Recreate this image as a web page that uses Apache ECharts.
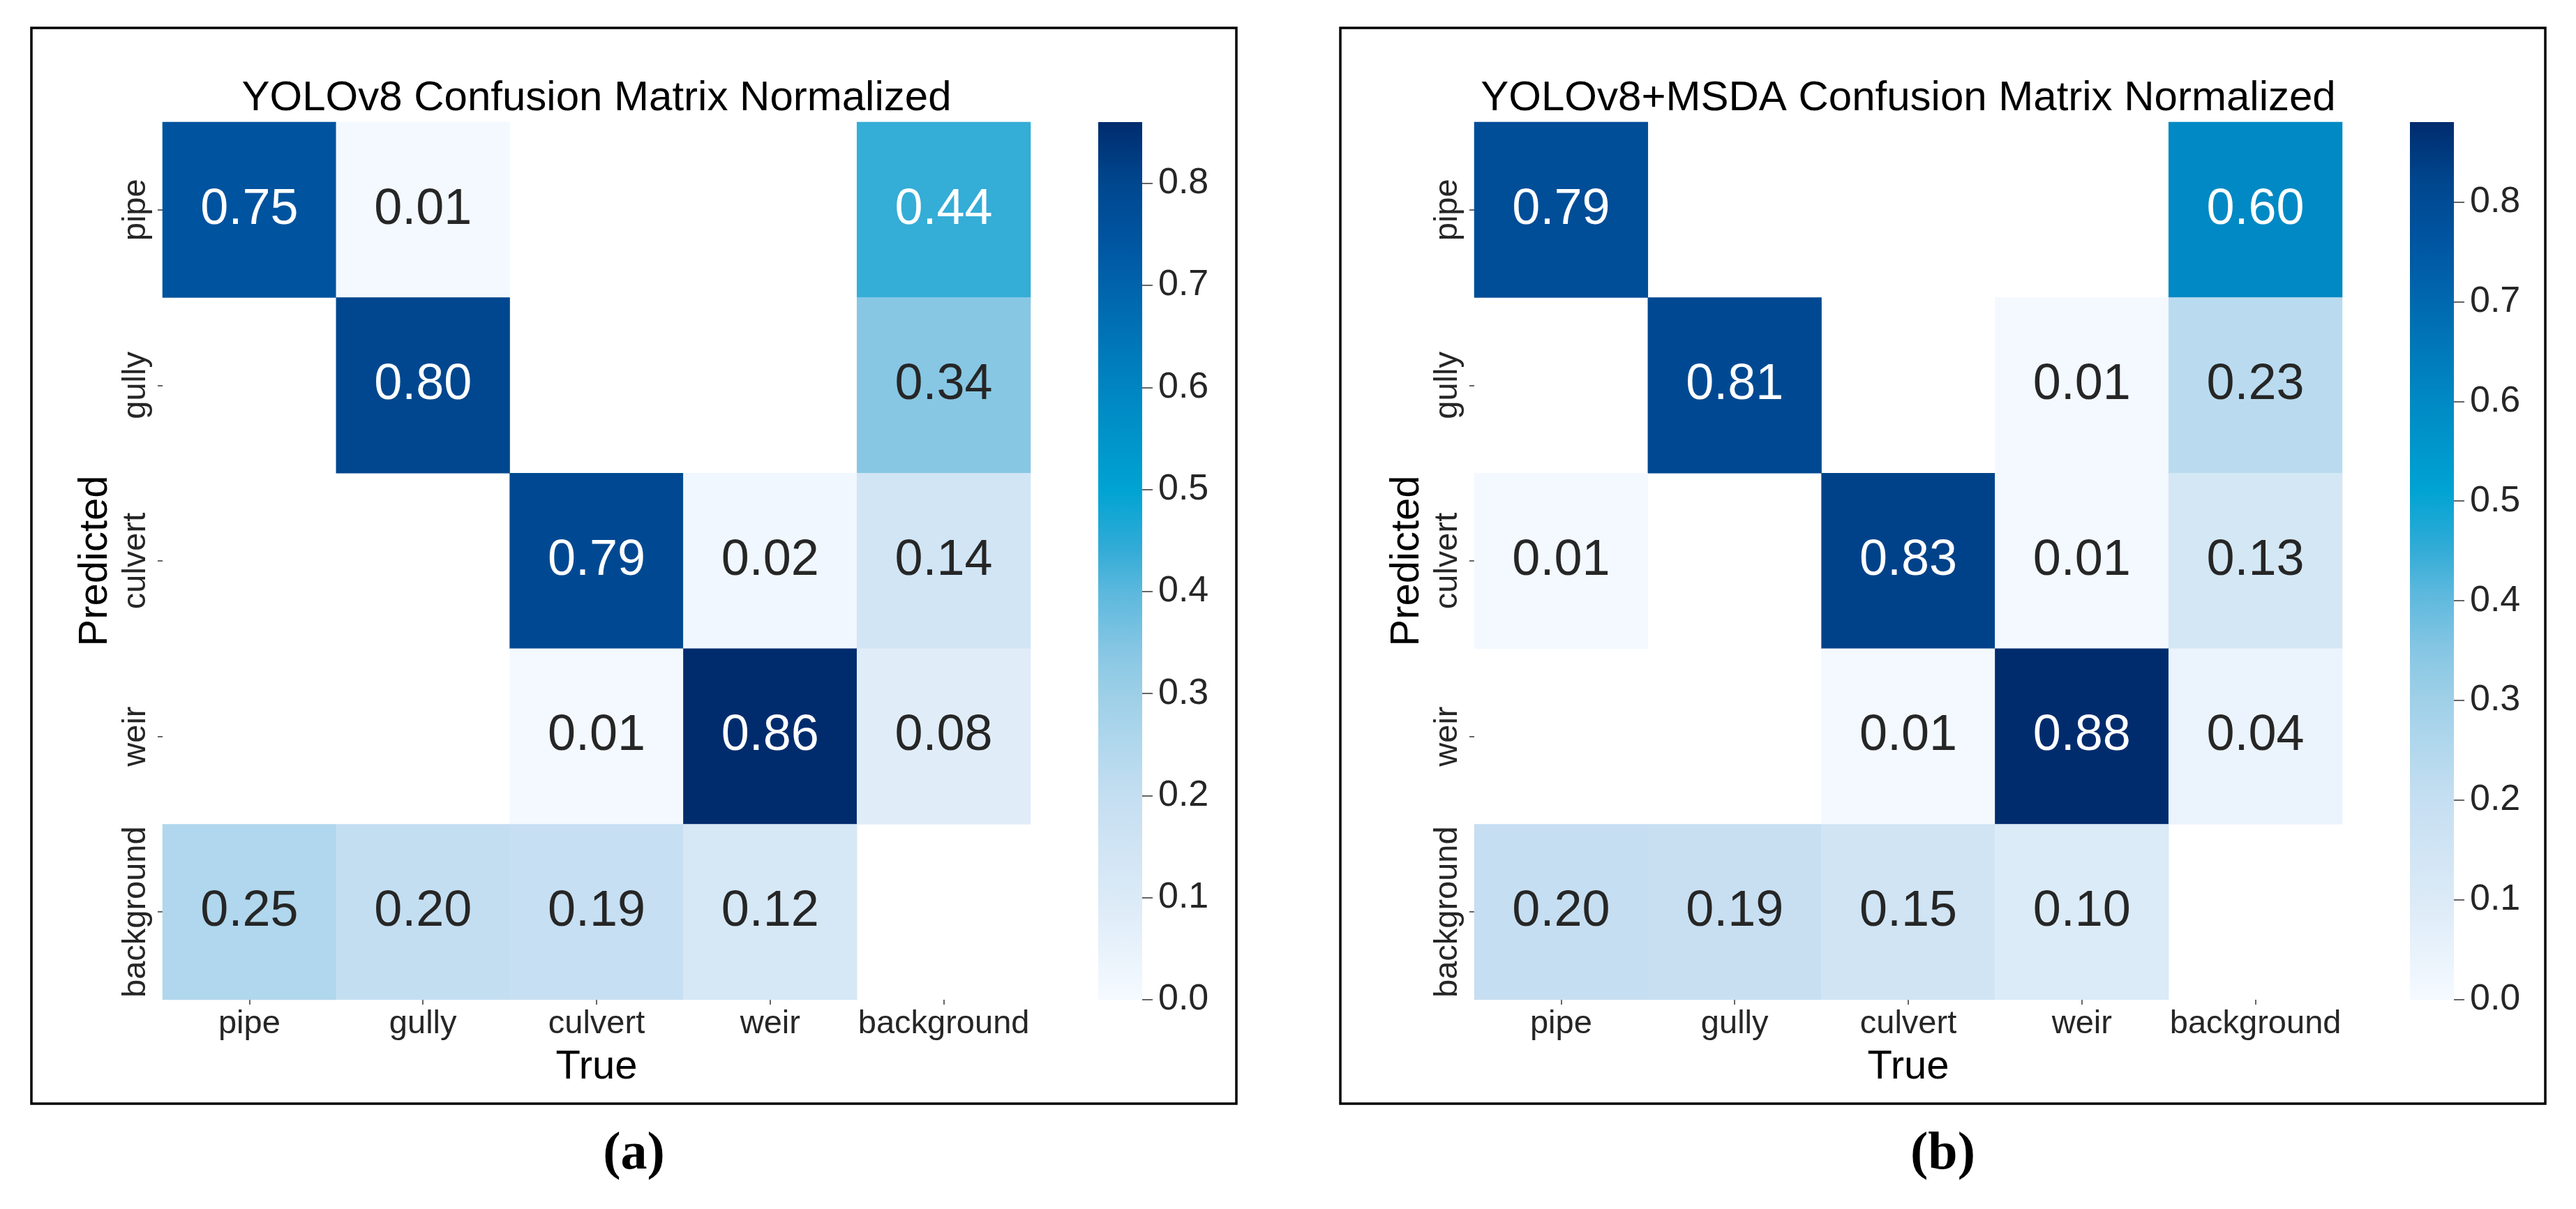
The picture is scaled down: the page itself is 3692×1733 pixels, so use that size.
<!DOCTYPE html>
<html><head><meta charset="utf-8">
<script src="https://cdn.jsdelivr.net/npm/echarts@6/dist/echarts.min.js"></script>
<style>html,body{margin:0;padding:0;background:#fff}#c{width:3692px;height:1733px}</style>
</head><body><div id="c"></div>
<script>
// ---------- data ----------
const classes = ['pipe', 'gully', 'culvert', 'weir', 'background'];
const titles = ['YOLOv8 Confusion Matrix Normalized', 'YOLOv8+MSDA Confusion Matrix Normalized'];
const captions = ['(a)', '(b)'];
const xName = 'True';
const yName = 'Predicted';
// rows = predicted, cols = true ; null = empty (zero) cell
const matrixA = [
  [0.75, 0.01, null, null, 0.44],
  [null, 0.80, null, null, 0.34],
  [null, null, 0.79, 0.02, 0.14],
  [null, null, 0.01, 0.86, 0.08],
  [0.25, 0.20, 0.19, 0.12, null]
];
const matrixB = [
  [0.79, null, null, null, 0.60],
  [null, 0.81, null, 0.01, 0.23],
  [0.01, null, 0.83, 0.01, 0.13],
  [null, null, 0.01, 0.88, 0.04],
  [0.20, 0.19, 0.15, 0.10, null]
];
const vmaxA = 0.86;
const vmaxB = 0.88;
const cbTicks = [0.0, 0.1, 0.2, 0.3, 0.4, 0.5, 0.6, 0.7, 0.8];

// ---------- colour map (normalised position -> colour) ----------
const cmapStops = [
  [0.000, '#f5faff'], [0.116, '#dbeaf7'], [0.233, '#c4def1'], [0.291, '#b0d7ed'],
  [0.349, '#9ccfe7'], [0.395, '#88c7e4'], [0.465, '#5bb8dd'], [0.512, '#33acd7'],
  [0.581, '#00a3d3'], [0.698, '#0085c1'], [0.814, '#0063ab'], [0.872, '#00539f'],
  [0.930, '#00478f'], [1.000, '#002c6e']
];
function hex2rgb(h){return [parseInt(h.slice(1,3),16),parseInt(h.slice(3,5),16),parseInt(h.slice(5,7),16)];}
function cmap(t){
  t = Math.max(0, Math.min(1, t));
  for (let i = 1; i < cmapStops.length; i++) {
    if (t <= cmapStops[i][0]) {
      const [t0, c0] = cmapStops[i-1], [t1, c1] = cmapStops[i];
      const f = (t - t0) / (t1 - t0), a = hex2rgb(c0), b = hex2rgb(c1);
      const m = a.map((v, k) => Math.round(v + (b[k] - v) * f));
      return 'rgb(' + m.join(',') + ')';
    }
  }
  return cmapStops[cmapStops.length-1][1];
}
const cmapColors = [];
for (let i = 0; i <= 100; i++) cmapColors.push(cmap(i / 100));

// ---------- layout ----------
const FONT = 'Liberation Sans, Arial, Helvetica, sans-serif';
const TXT = '#262626';
const panels = [
  {m: matrixA, vmax: vmaxA, dx: 0,    box: [45, 40, 1727, 1542]},
  {m: matrixB, vmax: vmaxB, dx: 1880, box: [1921, 40, 1727, 1542]}
];
const HM = {left: 233, top: 175, width: 1244, height: 1258};
const CB = {left: 1574, top: 175, width: 63, height: 1258};

const grids = [], xAxes = [], yAxes = [], series = [], visualMaps = [], graphics = [];

panels.forEach((p, i) => {
  grids.push({left: HM.left + p.dx, top: HM.top, width: HM.width, height: HM.height, containLabel: false});
  xAxes.push({
    type: 'category', gridIndex: i, data: classes,
    axisLine: {show: false},
    axisTick: {show: true, alignWithLabel: true, interval: 0, length: 7, lineStyle: {color: '#333', width: 1.5}},
    axisLabel: {fontSize: 47, color: TXT, margin: 12, interval: 0, hideOverlap: false, fontFamily: FONT},
    splitLine: {show: false},
    name: xName, nameLocation: 'middle', nameGap: 68,
    nameTextStyle: {fontSize: 58, color: '#000', fontFamily: FONT}
  });
  yAxes.push({
    type: 'category', gridIndex: i, data: classes, inverse: true,
    axisLine: {show: false},
    axisTick: {show: true, alignWithLabel: true, interval: 0, length: 7, lineStyle: {color: '#333', width: 1.5}},
    axisLabel: {fontSize: 47, color: TXT, margin: 14, rotate: 90, interval: 0, hideOverlap: false, fontFamily: FONT},
    splitLine: {show: false},
    name: yName, nameLocation: 'middle', nameGap: 67, nameRotate: 90,
    nameTextStyle: {fontSize: 58, color: '#000', fontFamily: FONT}
  });
  const data = [];
  p.m.forEach((row, r) => row.forEach((v, c) => {
    if (v === null) return;
    data.push({value: [c, r, v], label: {color: (v / p.vmax > 0.45) ? '#ffffff' : TXT}});
  }));
  series.push({
    type: 'heatmap', xAxisIndex: i, yAxisIndex: i, data: data,
    label: {show: true, fontSize: 72, fontFamily: FONT, formatter: q => q.value[2].toFixed(2)},
    itemStyle: {borderWidth: 0},
    emphasis: {disabled: true}, silent: true
  });
  visualMaps.push({
    type: 'continuous', show: false, seriesIndex: series.length - 1, dimension: 2,
    min: 0, max: p.vmax, inRange: {color: cmapColors}
  });
  // panel frame
  graphics.push({type: 'rect', shape: {x: p.box[0], y: p.box[1], width: p.box[2], height: p.box[3]},
    style: {fill: 'none', stroke: '#000', lineWidth: 3.5}, silent: true});
  // title
  graphics.push({type: 'text', silent: true, style: {
    text: titles[i], x: HM.left + p.dx + HM.width / 2, y: 141,
    font: '60px ' + FONT, fill: '#000', textAlign: 'center', textVerticalAlign: 'middle'}});
  // caption
  graphics.push({type: 'text', silent: true, style: {
    text: captions[i], x: p.box[0] + p.box[2] / 2, y: 1655,
    font: 'bold 76px "Liberation Serif", "Times New Roman", serif', fill: '#000',
    textAlign: 'center', textVerticalAlign: 'middle'}});
});

// colour bars
panels.forEach((p, i) => {
  const gi = grids.length;
  grids.push({left: CB.left + p.dx, top: CB.top, width: CB.width, height: CB.height});
  xAxes.push({type: 'category', gridIndex: gi, data: ['cb'], show: false});
  yAxes.push({
    type: 'value', gridIndex: gi, position: 'right', min: 0, max: p.vmax,
    axisLine: {show: false}, splitLine: {show: false},
    axisTick: {show: true, length: 15, customValues: cbTicks, lineStyle: {color: '#333', width: 1.5}},
    axisLabel: {customValues: cbTicks, formatter: v => v.toFixed(1), fontSize: 52, color: TXT, margin: 23, fontFamily: FONT}
  });
  const stops = cmapStops.map(s => ({offset: s[0], color: s[1]}));
  series.push({
    type: 'bar', xAxisIndex: gi, yAxisIndex: gi, data: [p.vmax], barWidth: '100%',
    itemStyle: {color: new echarts.graphic.LinearGradient(0, 1, 0, 0, stops)},
    silent: true, emphasis: {disabled: true}
  });
});

const chart = echarts.init(document.getElementById('c'), null, {renderer: 'canvas'});
chart.setOption({
  backgroundColor: '#ffffff',
  animation: false,
  grid: grids, xAxis: xAxes, yAxis: yAxes,
  visualMap: visualMaps, series: series, graphic: graphics
});
</script></body></html>
